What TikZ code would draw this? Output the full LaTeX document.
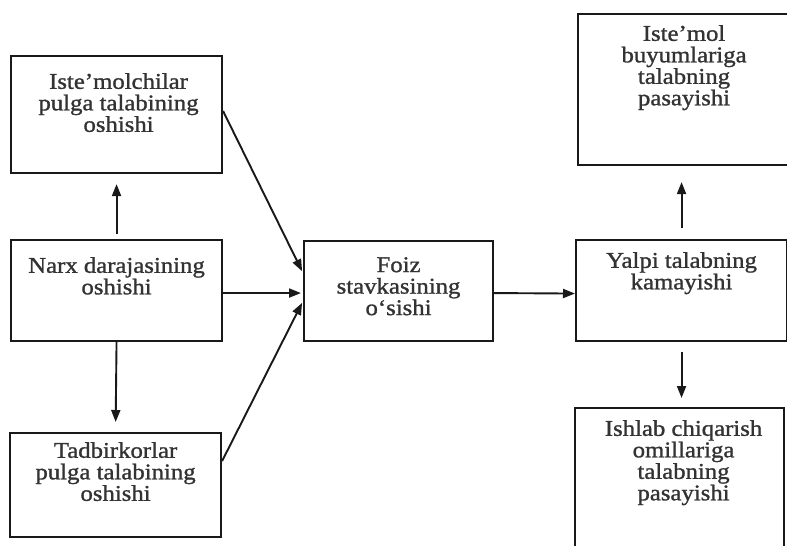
\documentclass[tikz,border=0pt]{standalone}
\usepackage{fontspec}
\setmainfont{Liberation Serif}[FakeStretch=1.1, FakeBold=1.2]
\usetikzlibrary{arrows.meta}
\begin{document}
\begin{tikzpicture}[x=1pt,y=-1pt,
  boxst/.style={draw=black!90, line width=2.1pt, anchor=north west, inner sep=0pt, rectangle},
  txt/.style={anchor=north, inner sep=0pt, align=center, text=black!80,
    font=\fontsize{22.5pt}{21.5pt}\selectfont},
  arr/.style={draw=black!90, line width=1.9pt, -{Triangle[length=12pt,width=9pt]}}]
\useasboundingbox (0,0) rectangle (787,546);
\clip (0,0) rectangle (787,546);
% boxes
\node[boxst, minimum width=211pt, minimum height=117pt] (a) at (10,55) {};
\node[boxst, minimum width=211pt, minimum height=101pt] (b) at (10,239) {};
\node[boxst, minimum width=211pt, minimum height=104pt] (c) at (9,432) {};
\node[boxst, minimum width=189pt, minimum height=100pt] (d) at (303,240) {};
\node[boxst, minimum width=211pt, minimum height=101pt] (e) at (575,239) {};
\node[boxst, minimum width=212pt, minimum height=151pt] (f) at (577,13) {};
\node[boxst, minimum width=209pt, minimum height=145pt] (g) at (574,407) {};
% texts
\node[txt] (ta) at ([xshift=2pt,yshift=-18pt]a.north) {Iste'molchilar\\pulga talabining\\oshishi};
\node[txt] (tb) at ([yshift=-18pt]b.north) {Narx darajasining\\oshishi};
\node[txt] (tc) at ([yshift=-10pt]c.north) {Tadbirkorlar\\pulga talabining\\oshishi};
\node[txt] (td) at ([yshift=-17pt]d.north) {Foiz\\stavkasining\\o`sishi};
\node[txt] (te) at ([yshift=-13pt]e.north) {Yalpi talabning\\kamayishi};
\node[txt] (tf) at ([yshift=-12pt]f.north) {Iste'mol\\buyumlariga\\talabning\\pasayishi};
\node[txt] (tg) at ([xshift=4pt,yshift=-13pt]g.north) {Ishlab chiqarish\\omillariga\\talabning\\pasayishi};
% connectors
\draw[arr, shorten <=5pt, shorten >=10pt] (b.north) -- (a.south);
\draw[arr, shorten >=10pt] (b.south) -- (c.north);
\draw[arr, shorten >=2pt] ([yshift=3.5pt]a.east) -- ([yshift=18pt]d.west);
\draw[arr, shorten >=2pt] ([yshift=-2.5pt]b.east) -- ([yshift=-2pt]d.west);
\draw[arr, shorten >=2pt] ([yshift=24pt]c.east) -- ([yshift=-10pt]d.west);
\draw[arr] ([yshift=-2pt]d.east) -- ([yshift=-3pt]e.west);
\draw[arr, shorten <=11pt, shorten >=16pt] (e.north) -- (e.north |- f.south);
\draw[arr, shorten <=10pt, shorten >=9pt] (e.south) -- (e.south |- g.north);
\end{tikzpicture}
\end{document}
